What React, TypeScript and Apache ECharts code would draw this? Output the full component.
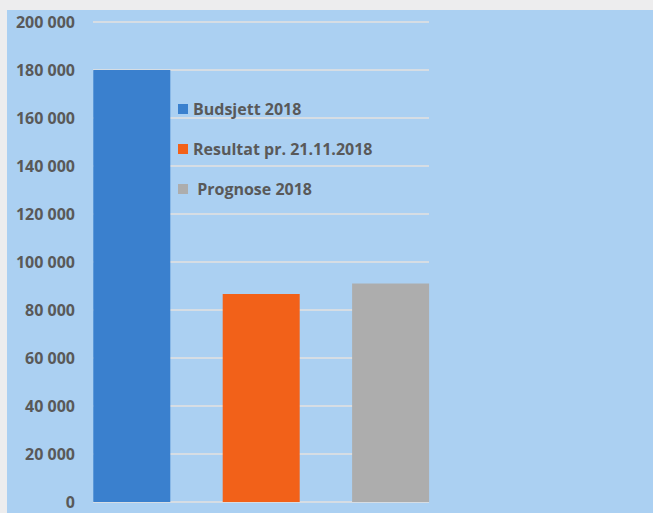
import React, { useEffect, useRef } from "react";
import * as echarts from "echarts";

const categories = ["Budsjett 2018", "Resultat pr. 21.11.2018", "Prognose 2018"];
const seriesNames = ["Budsjett 2018", "Resultat pr. 21.11.2018", "Prognose 2018"];
const values = [180000, 86700, 91000];
const colors = ["#3a80ce", "#f26119", "#adadad"];
const yMin = 0;
const yMax = 200000;
const yInterval = 20000;

export default function App() {
  const ref = useRef<HTMLDivElement>(null);
  useEffect(() => {
    document.body.style.margin = "0";
    if (!ref.current) return;
    const chart = echarts.init(ref.current, undefined, { renderer: "svg" });
    const font = "'Open Sans', 'Liberation Sans', sans-serif";
    const series: any[] = seriesNames.map((name, i) => ({
      name,
      type: "bar",
      stack: "total",
      xAxisIndex: 1,
      yAxisIndex: 1,
      barWidth: 77,
      itemStyle: { color: colors[i] },
      data: categories.map((_, j) => (j === i ? values[i] : "-")),
    }));
    chart.setOption({
      animation: false,
      backgroundColor: "#abd0f2",
      textStyle: { fontFamily: font },
      grid: [
        { left: 86, right: 224, top: 12, bottom: 11 },
        { left: 60.1, width: 388.2, top: 12, bottom: 11 },
      ],
      legend: {
        orient: "vertical",
        left: 171,
        top: 89,
        padding: 0,
        itemWidth: 10,
        itemHeight: 10,
        itemGap: 20,
        icon: "rect",
        data: seriesNames,
        formatter: (n: string) => (n === "Prognose 2018" ? " " + n : n),
        textStyle: {
          fontFamily: font,
          fontSize: 16,
          fontWeight: "bold",
          color: "#595959",
          lineHeight: 20,
        },
      },
      xAxis: [
        {
          type: "category",
          gridIndex: 0,
          data: categories,
          axisLine: { show: false },
          axisTick: { show: false },
          axisLabel: { show: false },
        },
        {
          type: "category",
          gridIndex: 1,
          data: categories,
          axisLine: { show: false },
          axisTick: { show: false },
          axisLabel: { show: false },
        },
      ],
      yAxis: [
        {
          type: "value",
          gridIndex: 0,
          min: yMin,
          max: yMax,
          interval: yInterval,
          axisLine: { show: false },
          axisTick: { show: false },
          splitLine: { lineStyle: { color: "#d6dde4", width: 2 } },
          axisLabel: {
            margin: 18,
            fontFamily: font,
            fontSize: 16,
            fontWeight: "bold",
            color: "#595959",
            formatter: (v: number) =>
              String(v).replace(/\B(?=(\d{3})+(?!\d))/g, " "),
          },
        },
        {
          type: "value",
          gridIndex: 1,
          min: yMin,
          max: yMax,
          interval: yInterval,
          axisLine: { show: false },
          axisTick: { show: false },
          splitLine: { show: false },
          axisLabel: { show: false },
        },
      ],
      series,
    });
    return () => chart.dispose();
  }, []);
  return (
    <div style={{ width: 653, height: 513, background: "#ededee", position: "relative" }}>
      <div
        ref={ref}
        style={{ position: "absolute", left: 7, top: 10, width: 646, height: 503 }}
      />
    </div>
  );
}
